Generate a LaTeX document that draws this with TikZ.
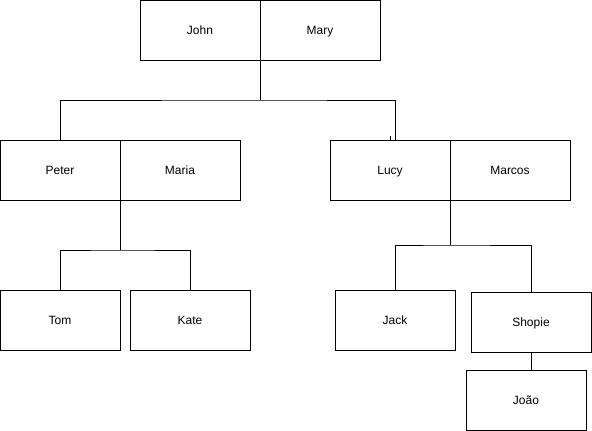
\documentclass[tikz,border=0pt]{standalone}
\usepackage{fontspec}
\setmainfont{Liberation Sans}
\usepackage{tikz}
\usetikzlibrary{positioning, calc}

\begin{document}
\begin{tikzpicture}[x=1pt,y=-1pt,line width=1pt,
    person/.style={draw, minimum width=120pt, minimum height=60pt, inner sep=0pt, outer sep=0pt,
      text height=9pt, text depth=0pt, font=\fontsize{12}{14}\selectfont}]
      \useasboundingbox (0,0) rectangle (592,431);
      % couples
      \node[person] (john) at (200,30) {John};
      \node[person] (mary) at (320,30) {Mary};
      \node[person] (peter) at (60,170) {Peter};
      \node[person] (maria) at (180,170) {Maria};
      \node[person] (lucy) at (390,170) {Lucy};
      \node[person] (marcos) at (510,170) {Marcos};
      % children
      \node[person] (tom) at (60,320) {Tom};
      \node[person] (kate) at (190,320) {Kate};
      \node[person] (jack) at (395,320) {Jack};
      \node[person] (shopie) at (531,322) {Shopie};
      \node[person] (joao) at (526,400) {João};
      % connectors
      \coordinate (jm) at (260,100);
      \coordinate (pm) at (120,250);
      \coordinate (lm) at (450,245);
      \draw (john.south east) -- (jm);
      \draw (peter.north) |- (jm) -| (lucy.north -| jack.north);
      \draw (lucy.north) -- ++(0,-4);
      \draw (peter.south east) -- (pm);
      \draw (tom.north) |- (pm) -| (kate.north);
      \draw (lucy.south east) -- (lm);
      \draw (jack.north) |- (lm) -| (shopie.north);
      \draw (shopie.south) -- (shopie.south |- joao.north);
    \end{tikzpicture}
\end{document}
